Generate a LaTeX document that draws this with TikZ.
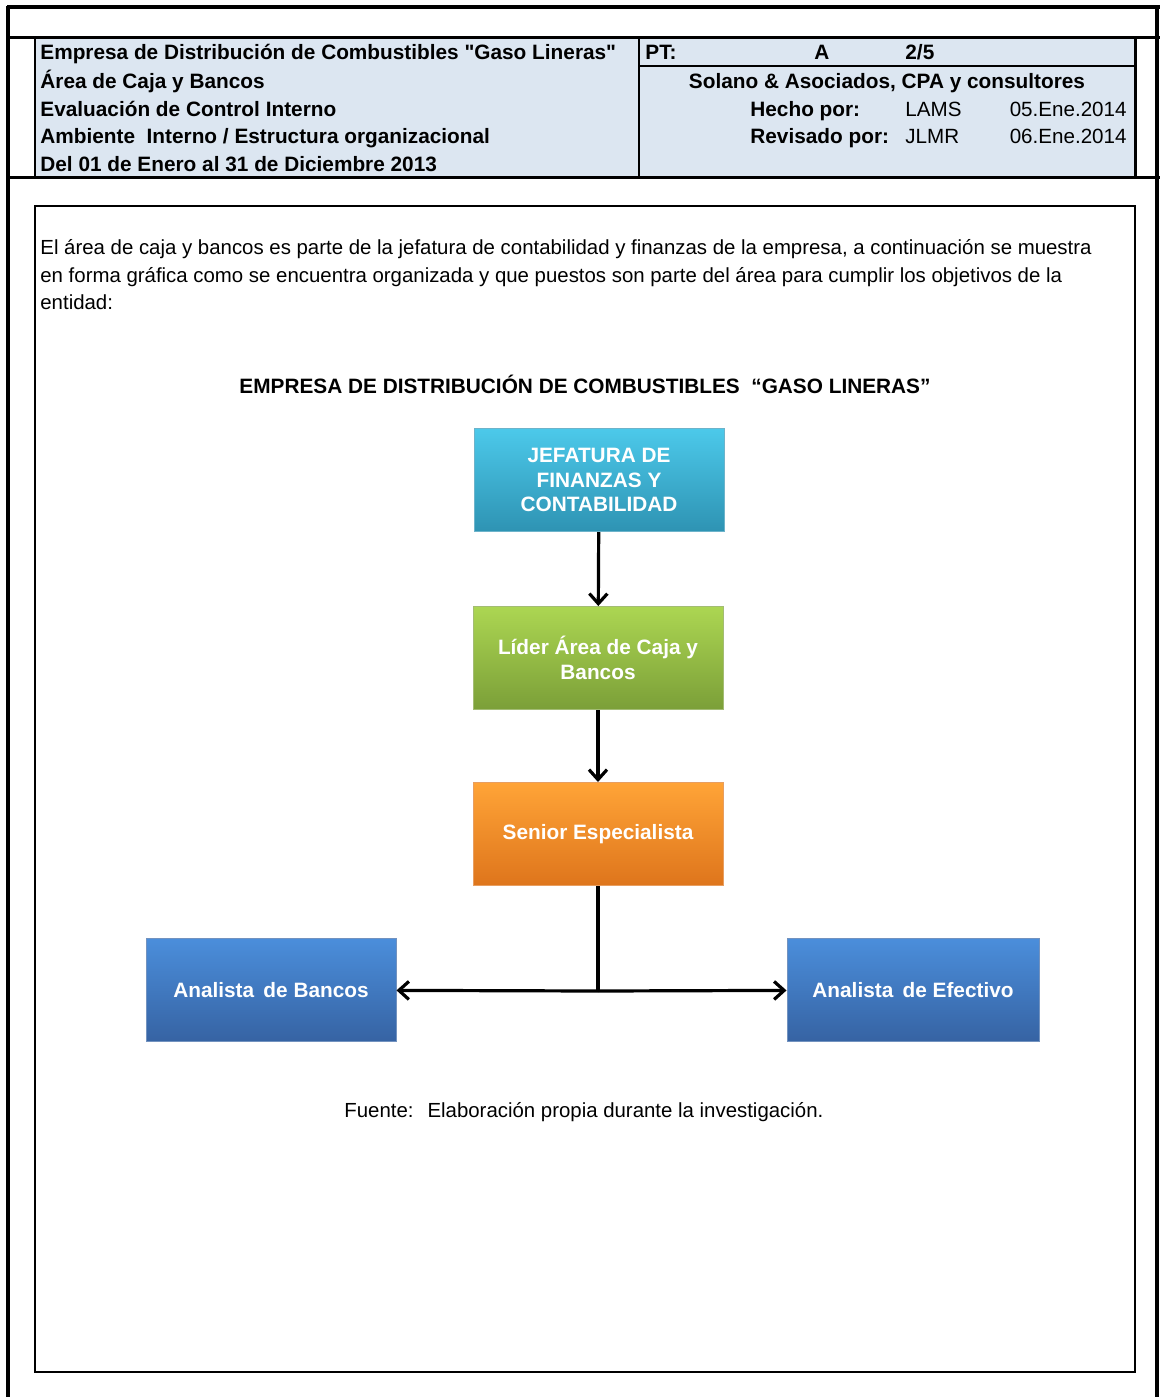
\documentclass[tikz,border=0pt]{standalone}
\usepackage{fontspec}
\setmainfont{Liberation Sans}
\usetikzlibrary{arrows.meta}
\definecolor{celda}{HTML}{DCE6F1}
\definecolor{cianA}{HTML}{4CC9EA}
\definecolor{cianB}{HTML}{2E93B3}
\definecolor{verdeA}{HTML}{ACD652}
\definecolor{verdeB}{HTML}{7B9F38}
\definecolor{naranjaA}{HTML}{FFA437}
\definecolor{naranjaB}{HTML}{DE751C}
\definecolor{azulA}{HTML}{4B8EDB}
\definecolor{azulB}{HTML}{3663A3}

\begin{document}
\begin{tikzpicture}[x=0.5pt, y=-0.5pt, >={Straight Barb[length=5pt,width=9pt]},
    cab/.style={anchor=base west, inner sep=0pt, font=\fontsize{10.4}{12}\selectfont\bfseries},
    dato/.style={anchor=base west, inner sep=0pt, font=\fontsize{10.3}{12}\selectfont},
    puesto/.style={minimum width=125pt, minimum height=51.5pt, align=center, inner sep=0pt,
      text=white, font=\fontsize{10.4}{12.2}\selectfont\bfseries, draw=#1B!70!white, line width=0.5pt,
      top color=#1A, bottom color=#1B}]
    \useasboundingbox (0,0) rectangle (1160,1397);
    % cabecera
    \fill[celda] (35,38) rectangle (1135,177);
    \draw[line width=2pt] (7,7) -- (1160,7);
    \draw[line width=2pt] (8,6) -- (8,1397);
    \draw[line width=2pt] (1157,6) -- (1157,1397);
    \draw[line width=1.5pt] (7,37) -- (1160,37);
    \draw[line width=1.5pt] (7,177) -- (1160,177);
    \draw[line width=1pt] (35,37) -- (35,177);
    \draw[line width=1pt] (639,37) -- (639,177);
    \draw[line width=1.5pt] (1135,37) -- (1135,177);
    \draw[line width=1pt] (639,66) -- (1135,66);
    \node[cab] at (40,59) (empresa) {Empresa de Distribución de Combustibles \textquotedbl Gaso Lineras\textquotedbl};
    \node[cab] at (40,88) (area) {Área de Caja y Bancos};
    \node[cab] at (40,116) (evaluacion) {Evaluación de Control Interno};
    \node[cab] at (40,143) (ambiente) {Ambiente\ \ Interno / Estructura organizacional};
    \node[cab] at (40,171) (periodo) {Del 01 de Enero al 31 de Diciembre 2013};
    \node[cab] at (645,59) (pt) {PT:};
    \node[cab, anchor=base] at (822,59) (ptletra) {A};
    \node[cab] at (905,59) (hoja) {2/5};
    \node[cab, anchor=base] at (887,88) (firma) {Solano \& Asociados, CPA y consultores};
    \node[cab] at (750,116) (hecho) {Hecho por:};
    \node[cab] at (750,143) (revisado) {Revisado por:};
    \node[dato] at (905,116) (lams) {LAMS};
    \node[dato] at (905,143) (jlmr) {JLMR};
    \node[dato, anchor=base east] at (1127,116) (fecha1) {05.Ene.2014};
    \node[dato, anchor=base east] at (1127,143) (fecha2) {06.Ene.2014};
    % cuerpo
    \draw[line width=1pt] (35,206) rectangle (1135,1372);
    \node[dato, align=left, anchor=north west, font=\fontsize{10.2}{13.8}\selectfont] at (40,239) (intro)
      {El área de caja y bancos es parte de la jefatura de contabilidad y finanzas de la empresa, a continuación se muestra\\
       en forma gráfica como se encuentra organizada y que puestos son parte del área para cumplir los objetivos de la\\
       entidad:};
    \node[cab, anchor=base] at (585,393) (titulo) {EMPRESA DE DISTRIBUCIÓN DE COMBUSTIBLES\ \ “GASO LINERAS”};
    \node[puesto=cian] at (599,480) (jefatura) {JEFATURA DE\\FINANZAS Y\\CONTABILIDAD};
    \node[puesto=verde] at (598,658) (lider) {Líder Área de Caja y\\Bancos};
    \node[puesto=naranja] at (598,834) (senior) {Senior Especialista};
    \node[puesto=azul] at (271,990) (bancos) {Analista\ \,de Bancos};
    \node[puesto=azul, minimum width=126pt] at (913,990) (efectivo) {Analista\ \,de Efectivo};
    \coordinate (cruce) at (598,991);
    \draw [->, line width=1.6pt] (jefatura) -- (lider);
    \draw [->, line width=1.6pt] (lider) -- (senior);
    \draw [line width=2pt] (senior) -- (cruce);
    \draw [->, line width=1.6pt] (cruce) -- (bancos);
    \draw [->, line width=1.6pt] (cruce) -- (efectivo);
    \node[dato, font=\fontsize{10.2}{12}\selectfont] at (344,1117) (fuente) {Fuente:\hspace{7pt}Elaboración propia durante la investigación.};
\end{tikzpicture}
\end{document}
